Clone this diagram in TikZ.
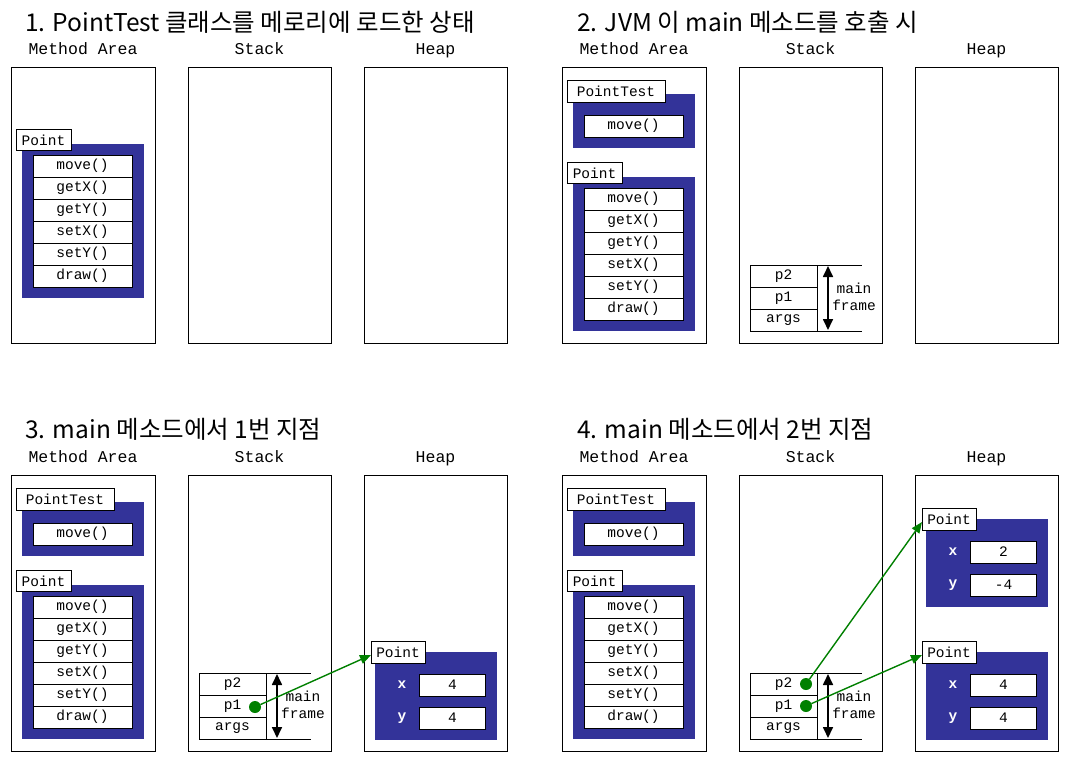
\documentclass[tikz,border=0pt]{standalone}
\usepackage{fontspec}
\setmonofont{Liberation Mono}
\newfontfamily\krfont{Noto Sans CJK KR}
\usetikzlibrary{arrows.meta}
\definecolor{clsblue}{RGB}{51,51,153}
\definecolor{refgreen}{RGB}{0,128,0}

\tikzset{
  area/.style={draw, line width=0.8pt, minimum width=144pt, minimum height=276pt, inner sep=0pt, outer sep=0pt},
  colhead/.style={font=\fontsize{16.5}{18}\selectfont\ttfamily, anchor=base, inner sep=0pt},
  ttl/.style={font=\fontsize{24.5}{27}\selectfont\krfont, anchor=base west, inner sep=0pt},
  cell/.style={draw, fill=white, line width=0.8pt, inner sep=0pt, outer sep=0pt, font=\fontsize{14.5}{16}\selectfont\ttfamily},
  clsbox/.style={fill=clsblue, inner sep=0pt, outer sep=0pt},
  fld/.style={text=white, inner sep=0pt, font=\fontsize{14.5}{16}\selectfont\ttfamily\bfseries},
  refarrow/.style={draw=refgreen, line width=1.4pt, -{Triangle[length=11pt,width=9pt]}},
  refdot/.style={circle, fill=refgreen, minimum size=12pt, inner sep=0pt, outer sep=0pt},
  framespan/.style={line width=1.7pt, {Triangle[length=11pt,width=10pt]}-{Triangle[length=11pt,width=10pt]}},
  framelbl/.style={align=center, inner sep=0pt, font=\fontsize{14.5}{17}\selectfont\ttfamily},
}

% column headers and the three memory areas of one panel
\newcommand\memareas[1]{%
  \node[colhead] (#1hma) at (83,54) {Method Area};
  \node[colhead] (#1hst) at (259.5,54) {Stack};
  \node[colhead] (#1hhp) at (435.5,54) {Heap};
  \node[area] (#1ma) at (83,205) {};
  \node[area, minimum width=143pt] (#1st) at (259.5,205) {};
  \node[area, minimum width=143pt] (#1hp) at (435.5,205) {};
}

% class Point with its methods; #2 = top of the class body
\newcommand\pointcls[2]{%
  \node[clsbox, minimum width=122pt, minimum height=154pt] (#1pc) at (83,#2+77) {};
  \node[cell, minimum width=55pt, minimum height=21pt] (#1pcl) at (43.5,#2-4) {Point};
  \foreach \m [count=\i from 0] in {move(),getX(),getY(),setX(),setY(),draw()}
    \node[cell, minimum width=99pt, minimum height=22pt] (#1m\i) at (82.5,#2+22+22*\i) {\m};
}

% class PointTest
\newcommand\testcls[1]{%
  \node[clsbox, minimum width=122pt, minimum height=54pt] (#1tc) at (83,121) {};
  \node[cell, minimum width=98pt, minimum height=22pt] (#1tcl) at (65,91) {PointTest};
  \node[cell, minimum width=99pt, minimum height=22pt] (#1tmove) at (82.5,126) {move()};
}

% stack frame of main
\newcommand\mainframe[1]{%
  \node[cell, minimum width=67pt, minimum height=22pt] (#1p2) at (232.5,276) {p2};
  \node[cell, minimum width=67pt, minimum height=22pt] (#1p1) at (232.5,298) {p1};
  \node[cell, minimum width=67pt, minimum height=22pt] (#1args) at (232.5,320) {args};
  \coordinate (#1ft) at (311,265);
  \coordinate (#1fb) at (311,331);
  \draw[line width=0.8pt] (#1p2.north east) -- (#1ft);
  \draw[line width=0.8pt] (#1args.south east) -- (#1fb);
  \coordinate (#1at) at (277,266);
  \coordinate (#1ab) at (277,330);
  \draw[framespan] (#1at) -- (#1ab);
  \node[framelbl] (#1fl) at (303,297) {main\\frame};
}

% a Point object on the heap; #2 = label centre line, #3/#4 = field values
\newcommand\heapobj[4]{%
  \node[clsbox, minimum width=122pt, minimum height=88pt] (#1o) at (436,#2+44) {};
  \node[cell, minimum width=54pt, minimum height=22pt] (#1ol) at (398,#2) {Point};
  \node[cell, minimum width=66pt, minimum height=22pt] (#1ox) at (452.5,#2+33) {#3};
  \node[cell, minimum width=66pt, minimum height=22pt] (#1oy) at (452.5,#2+66) {#4};
  \node[fld] (#1oxl) at (402,#2+33) {x};
  \node[fld] (#1oyl) at (402,#2+66) {y};
}

\begin{document}
\begin{tikzpicture}[x=1pt, y=-1pt]
  \path[fill=white, use as bounding box] (0,0) rectangle (1069,761);

  % 1. class loaded
  \begin{scope}
    \node[ttl] (t1) at (25,31) {1. PointTest 클래스를 메로리에 로드한 상태};
    \memareas{a}
    \pointcls{a}{144}
  \end{scope}

  % 2. main called
  \begin{scope}[shift={(551,0)}]
    \node[ttl] (t2) at (26,31) {2. JVM 이 main 메소드를 호출 시};
    \memareas{b}
    \testcls{b}
    \pointcls{b}{177}
    \mainframe{b}
  \end{scope}

  % 3. point 1 in main
  \begin{scope}[shift={(0,408)}]
    \node[ttl] (t3) at (25,30.5) {3. main 메소드에서 1번 지점};
    \memareas{c}
    \testcls{c}
    \pointcls{c}{177}
    \mainframe{c}
    \heapobj{c1}{244}{4}{4}
    \node[refdot] (cd1) at (255,299) {};
    \draw[refarrow] (cd1) -- ([yshift=-3pt]c1ol.west);
  \end{scope}

  % 4. point 2 in main
  \begin{scope}[shift={(551,408)}]
    \node[ttl] (t4) at (26,30.5) {4. main 메소드에서 2번 지점};
    \memareas{d}
    \testcls{d}
    \pointcls{d}{177}
    \mainframe{d}
    \heapobj{d2}{111}{2}{-4}
    \heapobj{d1}{244}{4}{4}
    \node[refdot] (dd2) at (255,276) {};
    \node[refdot] (dd1) at (255,298) {};
    \draw[refarrow] (dd2) -- ([yshift=-3pt]d2ol.west);
    \draw[refarrow] (dd1) -- ([yshift=-3pt]d1ol.west);
  \end{scope}
\end{tikzpicture}
\end{document}
